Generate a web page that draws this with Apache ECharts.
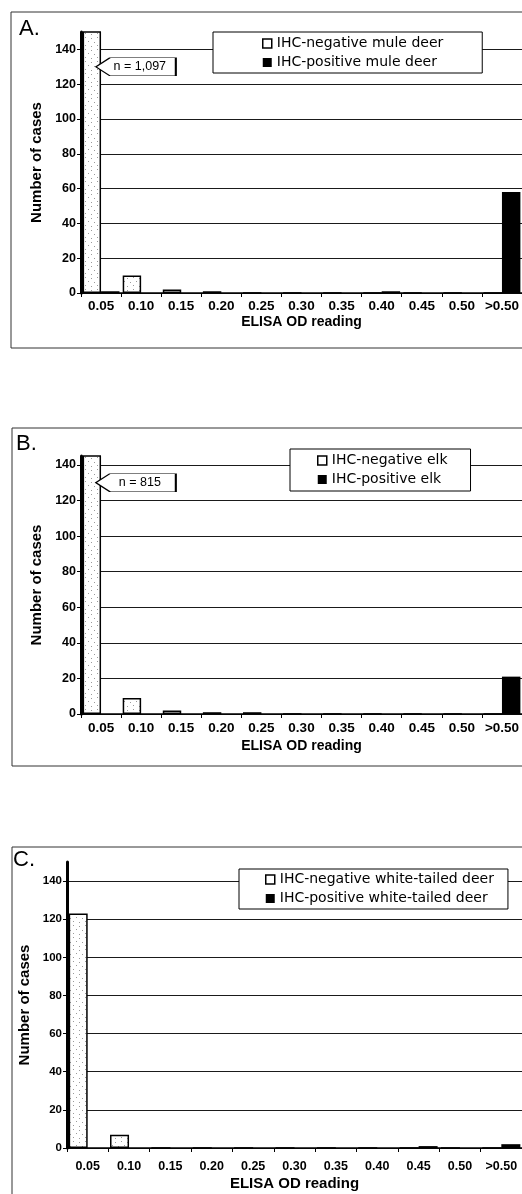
<!DOCTYPE html>
<html>
<head>
<meta charset="utf-8">
<script src="https://cdn.jsdelivr.net/npm/echarts@6/dist/echarts.min.js"></script>
<style>
  html, body { margin: 0; padding: 0; background: #fff; }
  #chart { width: 522px; height: 1194px; }
</style>
</head>
<body>
<div id="chart"></div>
<script>
// ---------- data ----------
const categories = ['0.05', '0.10', '0.15', '0.20', '0.25', '0.30', '0.35', '0.40', '0.45', '0.50', '>0.50'];

const muleNegative = [1097, 10, 2, 1, 0, 0, 0, 0, 0, 0, 0];
const mulePositive = [1, 0, 0, 0, 0, 0, 0, 1, 0, 0, 58];

const elkNegative = [815, 9, 2, 1, 1, 0, 0, 0, 0, 0, 0];
const elkPositive = [0, 0, 0, 0, 0, 0, 0, 0, 0, 0, 21];

const wtdNegative = [123, 7, 0, 0, 0, 0, 0, 0, 0, 0, 0];
const wtdPositive = [0, 0, 0, 0, 0, 0, 0, 0, 1, 0, 2];

const yTicks = [0, 20, 40, 60, 80, 100, 120, 140];

const namesA = ['IHC-negative mule deer', 'IHC-positive mule deer'];
const namesB = ['IHC-negative elk', 'IHC-positive elk'];
const namesC = ['IHC-negative white-tailed deer', 'IHC-positive white-tailed deer'];

// ---------- styles ----------
const stipple = document.createElement('canvas');
stipple.width = 12; stipple.height = 12;
(function () {
  const c = stipple.getContext('2d');
  c.fillStyle = '#fff'; c.fillRect(0, 0, 12, 12);
  c.fillStyle = '#9a9a9a';
  [[1,1],[7,2],[4,5],[10,6],[1,9],[7,10]].forEach(p => c.fillRect(p[0], p[1], 1, 1));
})();
const negFill = { image: stipple, repeat: 'repeat' };

const tickFont = 'Liberation Sans';
const chart = echarts.init(document.getElementById('chart'), null, { renderer: 'canvas' });

const panels = [
  { grid: { left: 81, top: 32, width: 449, height: 261 }, max: 150, neg: muleNegative, pos: mulePositive, names: namesA,
    xFont: 13.5, yFont: 12.5, xName: 14, xMargin: 6, nameGap: 22, yNameGap: 34,
    legend: { left: 213, top: 32, padding: [4, 39, 3, 49] }, callout: true },
  { grid: { left: 81, top: 456, width: 449, height: 258 }, max: 145, neg: elkNegative, pos: elkPositive, names: namesB,
    xFont: 13.5, yFont: 12.5, xName: 14, xMargin: 7, nameGap: 25, yNameGap: 34,
    legend: { left: 290, top: 449, padding: [4, 23, 4, 27] }, callout: true },
  { grid: { left: 67, top: 862, width: 465, height: 286 }, max: 150, neg: wtdNegative, pos: wtdPositive, names: namesC,
    xFont: 12.5, yFont: 11.5, xName: 15, xMargin: 12, nameGap: 28, yNameGap: 27,
    legend: { left: 239, top: 869, padding: [3, 14, 3, 26] }, callout: false }
];

const option = {
  backgroundColor: '#fff',
  animation: false,
  grid: panels.map(p => Object.assign({ containLabel: false }, p.grid)),
  xAxis: panels.map((p, i) => ({
    type: 'category', gridIndex: i, data: categories,
    axisLine: { show: true, lineStyle: { color: '#000', width: 1.5 } },
    axisTick: { show: true, length: 4, lineStyle: { color: '#000', width: 1 } },
    axisLabel: { interval: 0, color: '#000', fontFamily: tickFont, fontWeight: 'bold', fontSize: p.xFont, margin: p.xMargin },
    name: 'ELISA OD reading', nameLocation: 'middle', nameGap: p.nameGap,
    nameTextStyle: { color: '#000', fontFamily: tickFont, fontWeight: 'bold', fontSize: p.xName },
    splitLine: { show: false }
  })),
  yAxis: panels.map((p, i) => ({
    type: 'value', gridIndex: i, min: 0, max: p.max, interval: 20,
    axisLine: { show: true, lineStyle: { color: '#000', width: 3 } },
    axisTick: { show: true, length: 4, lineStyle: { color: '#000', width: 1 }, customValues: yTicks },
    axisLabel: { color: '#000', fontFamily: tickFont, fontWeight: 'bold', fontSize: p.yFont, margin: 5, customValues: yTicks },
    splitLine: { show: true, lineStyle: { color: '#1a1a1a', width: 1 } },
    name: 'Number of cases', nameLocation: 'middle', nameGap: p.yNameGap,
    nameTextStyle: { color: '#000', fontFamily: tickFont, fontWeight: 'bold', fontSize: 15 }
  })),
  legend: panels.map((p, i) => ({
    orient: 'vertical', left: p.legend.left, top: p.legend.top, padding: p.legend.padding,
    itemWidth: 9, itemHeight: 9, itemGap: 4, selectedMode: false,
    backgroundColor: '#fff', borderColor: '#000', borderWidth: 1,
    textStyle: { color: '#000', fontFamily: 'DejaVu Sans', fontSize: 14, lineHeight: 15 },
    data: [
      { name: p.names[0], icon: 'rect', itemStyle: { color: '#fff', borderColor: '#000', borderWidth: 1.5 } },
      { name: p.names[1], icon: 'rect', itemStyle: { color: '#000', borderWidth: 0 } }
    ]
  })),
  series: []
};

panels.forEach((p, i) => {
  const negSeries = {
    type: 'bar', name: p.names[0], xAxisIndex: i, yAxisIndex: i, data: p.neg,
    barGap: '0%', barCategoryGap: '8%', clip: true,
    itemStyle: { color: negFill, borderColor: '#000', borderWidth: 1.5 }
  };
  if (p.callout) {
    negSeries.markPoint = {
      symbol: 'path://M0,9 L14,0 L80,0 L80,18 L14,18 Z',
      symbolSize: [80, 18], symbolKeepAspect: false, symbolOffset: [44, 0],
      itemStyle: { color: '#fff', borderColor: '#000', borderWidth: 1 },
      label: { show: true, color: '#000', fontFamily: tickFont, fontSize: 12.5, offset: [4, 0],
               formatter: 'n = ' + p.neg[0].toLocaleString('en-US') },
      data: [{ coord: [categories[0], 130] }]
    };
  }
  option.series.push(negSeries);
  option.series.push({
    type: 'bar', name: p.names[1], xAxisIndex: i, yAxisIndex: i, data: p.pos,
    barGap: '0%', barCategoryGap: '8%', clip: true,
    itemStyle: { color: '#000', borderColor: '#000', borderWidth: 0 }
  });
});

option.graphic = [
  { type: 'rect', shape: { x: 11, y: 12, width: 530, height: 336 }, style: { fill: 'none', stroke: '#333', lineWidth: 1 }, z: 100, silent: true },
  { type: 'rect', shape: { x: 12, y: 428, width: 530, height: 338 }, style: { fill: 'none', stroke: '#333', lineWidth: 1 }, z: 100, silent: true },
  { type: 'rect', shape: { x: 12, y: 847, width: 530, height: 360 }, style: { fill: 'none', stroke: '#333', lineWidth: 1 }, z: 100, silent: true },
  { type: 'text', x: 19, y: 18, style: { text: 'A.', fill: '#000', font: '22px "Liberation Sans"' }, z: 100 },
  { type: 'text', x: 16, y: 433, style: { text: 'B.', fill: '#000', font: '22px "Liberation Sans"' }, z: 100 },
  { type: 'text', x: 13, y: 849, style: { text: 'C.', fill: '#000', font: '22px "Liberation Sans"' }, z: 100 }
];

chart.setOption(option);
</script>
</body>
</html>
